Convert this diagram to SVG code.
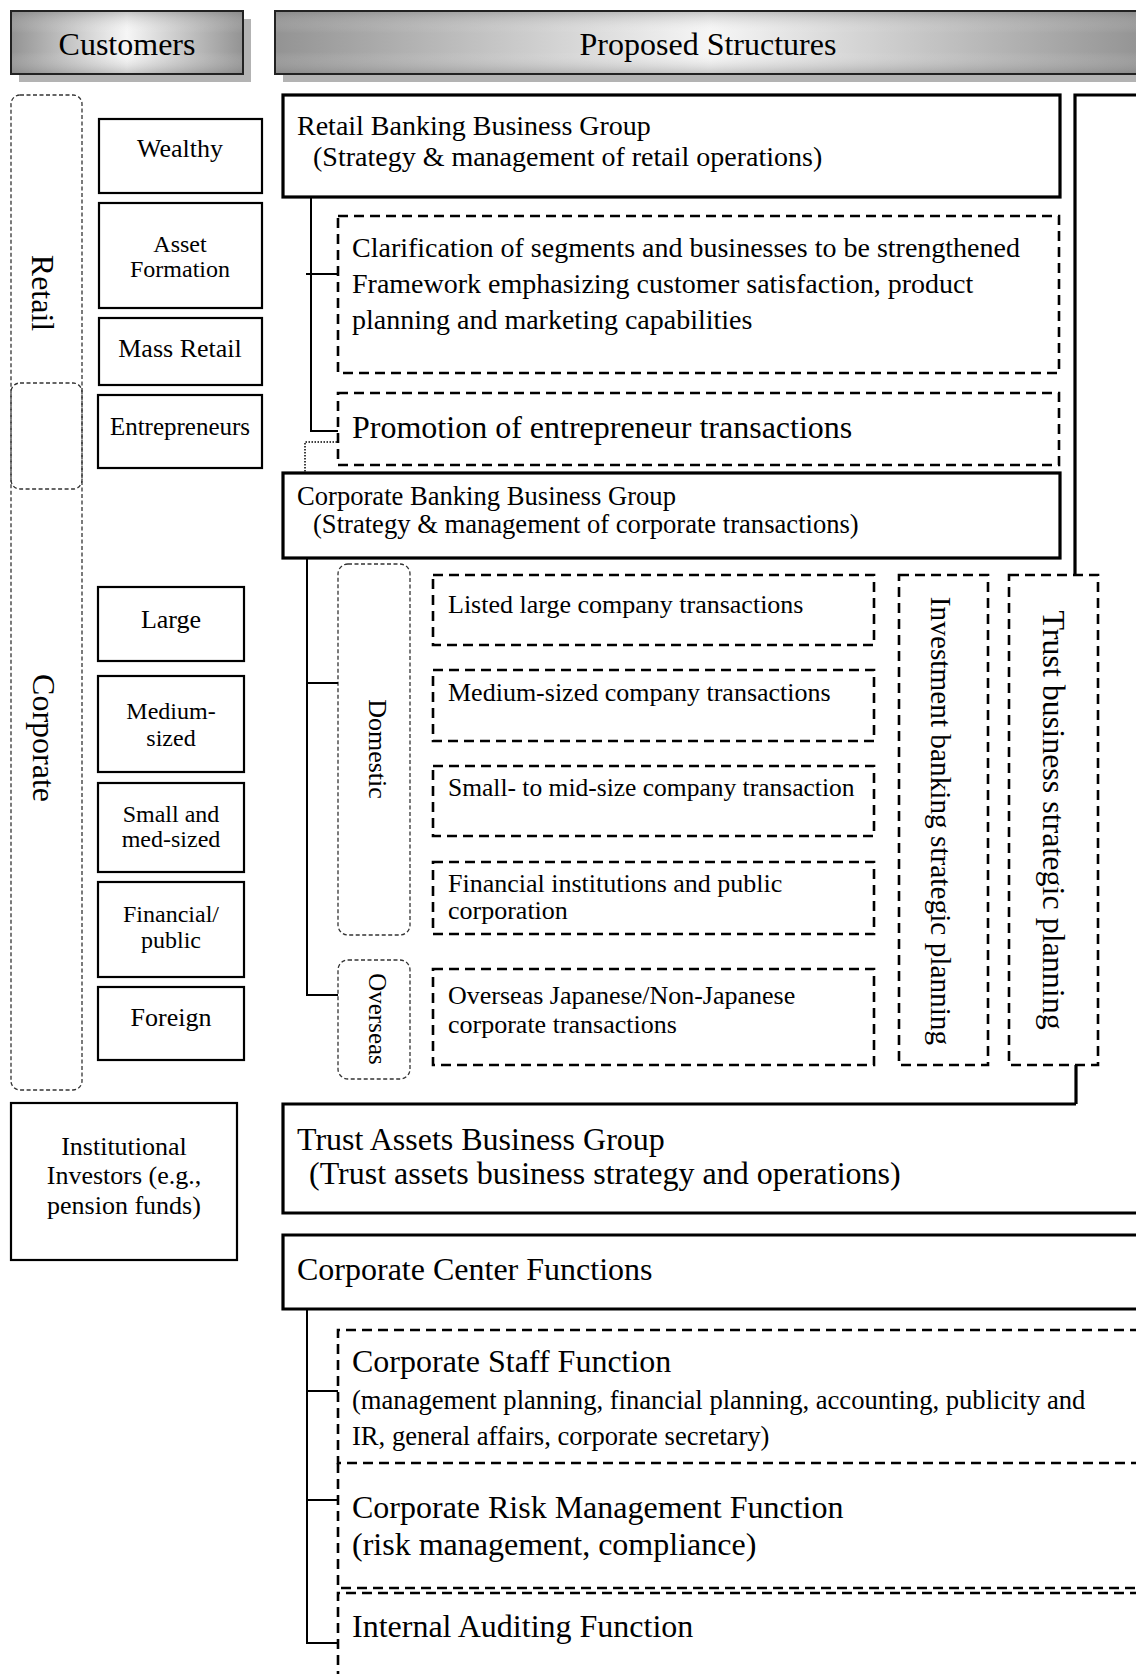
<svg xmlns="http://www.w3.org/2000/svg" width="1136" height="1674" viewBox="0 0 1136 1674">
<defs>
<linearGradient id="hg" x1="0" y1="0" x2="1" y2="0">
<stop offset="0" stop-color="#939393"/><stop offset="0.5" stop-color="#f6f6f6"/><stop offset="1" stop-color="#939393"/>
</linearGradient>
<linearGradient id="vg" x1="0" y1="0" x2="0" y2="1">
<stop offset="0" stop-color="#777" stop-opacity="0.4"/><stop offset="0.35" stop-color="#fff" stop-opacity="0"/><stop offset="0.65" stop-color="#fff" stop-opacity="0"/><stop offset="1" stop-color="#777" stop-opacity="0.4"/>
</linearGradient>
</defs>
<style>
text{font-family:"Liberation Serif","Times New Roman",serif;fill:#000}
.c{text-anchor:middle}
.hdr{font-size:32px}
.shadow{fill:#b3b3b3}
.hbox{stroke:#222;stroke-width:2}
.cust{fill:#fff;stroke:#000;stroke-width:2.2}
.grp{fill:none;stroke:#000;stroke-width:3.2}
.dash{fill:none;stroke:#000;stroke-width:2.6;stroke-dasharray:10 6}
.seg{fill:none;stroke:#333;stroke-width:1.3;stroke-dasharray:4 2.5}
.ln{fill:none;stroke:#000;stroke-width:2}
.dot{fill:none;stroke:#000;stroke-width:1.5;stroke-dasharray:1.5 1.5}
.f24{font-size:24px}.f25{font-size:25px}.f26{font-size:26px}.f28{font-size:28px}.f32{font-size:32px}
</style>

<g id="header-customers">
<rect class="shadow" x="19" y="19" width="232" height="63"/>
<rect x="11" y="11" width="232" height="63" fill="url(#hg)"/>
<rect class="hbox" x="11" y="11" width="232" height="63" fill="url(#vg)"/>
<text class="hdr c" x="127" y="55">Customers</text>
</g>
<g id="header-proposed">
<rect class="shadow" x="283" y="19" width="870" height="63"/>
<rect x="275" y="11" width="870" height="63" fill="url(#hg)"/>
<rect class="hbox" x="275" y="11" width="870" height="63" fill="url(#vg)"/>
<text class="hdr c" x="708" y="55">Proposed Structures</text>
</g>

<g id="segment-retail">
<rect class="seg" x="11" y="95" width="71" height="394" rx="9"/>
<text class="f32 c" transform="translate(32,293) rotate(90)">Retail</text>
</g>
<g id="segment-corporate">
<rect class="seg" x="11" y="383" width="71" height="707" rx="9"/>
<text class="f32 c" transform="translate(33,738) rotate(90)">Corporate</text>
</g>

<g id="cust-wealthy"><rect class="cust" x="99" y="119" width="163" height="74"/><text class="f26 c" x="180" y="157">Wealthy</text></g>
<g id="cust-asset"><rect class="cust" x="99" y="203" width="163" height="105"/><text class="f24 c" x="180" y="252">Asset</text><text class="f24 c" x="180" y="277">Formation</text></g>
<g id="cust-mass"><rect class="cust" x="99" y="318" width="163" height="67"/><text class="f26 c" x="180" y="357">Mass Retail</text></g>
<g id="cust-entre"><rect class="cust" x="98" y="395" width="164" height="73"/><text class="f25 c" x="180" y="435">Entrepreneurs</text></g>

<g id="cust-large"><rect class="cust" x="98" y="587" width="146" height="74"/><text class="f26 c" x="171" y="628">Large</text></g>
<g id="cust-medium"><rect class="cust" x="98" y="676" width="146" height="96"/><text class="f24 c" x="171" y="719">Medium-</text><text class="f24 c" x="171" y="746">sized</text></g>
<g id="cust-small"><rect class="cust" x="98" y="783" width="146" height="89"/><text class="f24 c" x="171" y="822">Small and</text><text class="f24 c" x="171" y="847">med-sized</text></g>
<g id="cust-financial"><rect class="cust" x="98" y="882" width="146" height="95"/><text class="f24 c" x="171" y="922">Financial/</text><text class="f24 c" x="171" y="948">public</text></g>
<g id="cust-foreign"><rect class="cust" x="98" y="987" width="146" height="73"/><text class="f26 c" x="171" y="1026">Foreign</text></g>

<g id="cust-institutional"><rect class="cust" x="11" y="1103" width="226" height="157"/>
<text class="f26 c" x="124" y="1155">Institutional</text><text class="f26 c" x="124" y="1184">Investors (e.g.,</text><text class="f26 c" x="124" y="1214">pension funds)</text></g>

<g id="retail-group"><rect class="grp" x="283" y="95" width="777" height="102"/>
<text class="f28" x="297" y="135">Retail Banking Business Group</text>
<text class="f28" x="313" y="166">(Strategy &amp; management of retail operations)</text></g>

<g id="retail-clarification"><rect class="dash" x="338" y="216" width="721" height="157"/>
<text class="f28" x="352" y="257">Clarification of segments and businesses to be strengthened</text>
<text class="f28" x="352" y="293">Framework emphasizing customer satisfaction, product</text>
<text class="f28" x="352" y="329">planning and marketing capabilities</text></g>

<g id="retail-promotion"><rect class="dash" x="338" y="393" width="721" height="72"/>
<text class="f32" x="352" y="438">Promotion of entrepreneur transactions</text></g>

<g id="corporate-group"><rect class="grp" x="283" y="473" width="777" height="85"/>
<text style="font-size:26.6px" x="297" y="505">Corporate Banking Business Group</text>
<text style="font-size:26.6px" x="313" y="533">(Strategy &amp; management of corporate transactions)</text></g>

<g id="corp-domestic"><rect class="seg" x="338" y="564" width="72" height="371" rx="10"/>
<text class="f26 c" transform="translate(369,749) rotate(90)">Domestic</text></g>
<g id="corp-overseas"><rect class="seg" x="338" y="960" width="72" height="119" rx="10"/>
<text class="f25 c" transform="translate(369,1019) rotate(90)">Overseas</text></g>

<g id="tx-listed"><rect class="dash" x="433" y="575" width="441" height="70"/><text class="f26" x="448" y="613">Listed large company transactions</text></g>
<g id="tx-medium"><rect class="dash" x="433" y="670" width="441" height="71"/><text class="f26" x="448" y="701">Medium-sized company transactions</text></g>
<g id="tx-small"><rect class="dash" x="433" y="766" width="441" height="70"/><text style="font-size:25.5px" x="448" y="796">Small- to mid-size company transaction</text></g>
<g id="tx-financial"><rect class="dash" x="433" y="862" width="441" height="72"/><text class="f26" x="448" y="892">Financial institutions and public</text><text class="f26" x="448" y="919">corporation</text></g>
<g id="tx-overseas"><rect class="dash" x="433" y="969" width="441" height="96"/><text class="f26" x="448" y="1004">Overseas Japanese/Non-Japanese</text><text class="f26" x="448" y="1033">corporate transactions</text></g>

<g id="ib-planning"><rect class="dash" x="899" y="575" width="89" height="490"/>
<text style="font-size:29.3px" class="c" transform="translate(931,821) rotate(90)">Investment banking strategic planning</text></g>
<g id="trust-planning"><rect class="dash" x="1009" y="575" width="89" height="490"/>
<text class="f32 c" transform="translate(1043,820) rotate(90)">Trust business strategic planning</text></g>

<g id="trust-bank-edge"><path class="grp" d="M1140,95 H1075 V575"/></g>

<g id="trust-assets-group"><path class="grp" d="M1140,1213 H283 V1104 H1076"/>
<text class="f32" x="297" y="1150">Trust Assets Business Group</text>
<text class="f32" x="309" y="1184">(Trust assets business strategy and operations)</text></g>

<g id="corporate-center"><path class="grp" d="M1140,1235 H283 V1309 H1140"/>
<text class="f32" x="297" y="1280">Corporate Center Functions</text></g>

<g id="cc-staff"><path class="dash" d="M1140,1330 H338 V1463 H1140"/>
<text class="f32" x="352" y="1372">Corporate Staff Function</text>
<text style="font-size:26.6px" x="352" y="1409">(management planning, financial planning, accounting, publicity and</text>
<text style="font-size:26.6px" x="352" y="1445">IR, general affairs, corporate secretary)</text></g>
<g id="cc-risk"><path class="dash" d="M338,1463 V1588 H1140"/>
<text class="f32" x="352" y="1518">Corporate Risk Management Function</text>
<text class="f32" x="352" y="1555">(risk management, compliance)</text></g>
<g id="cc-audit"><path class="dash" d="M1140,1593 H338 V1680"/>
<text class="f32" x="352" y="1637">Internal Auditing Function</text></g>

<g id="connectors">
<path class="ln" d="M311,197 V431 H338"/>
<path class="ln" d="M306,274 H338"/>
<path class="dot" d="M337,442 H305 V473"/>
<path class="ln" d="M307,558 V995 H338"/>
<path class="ln" d="M307,683 H338"/>
<path class="grp" d="M1076,1065 V1104"/>
<path class="ln" d="M307,1309 V1643 H338"/>
<path class="ln" d="M307,1391 H338"/>
<path class="ln" d="M307,1500 H338"/>
</g>
</svg>
